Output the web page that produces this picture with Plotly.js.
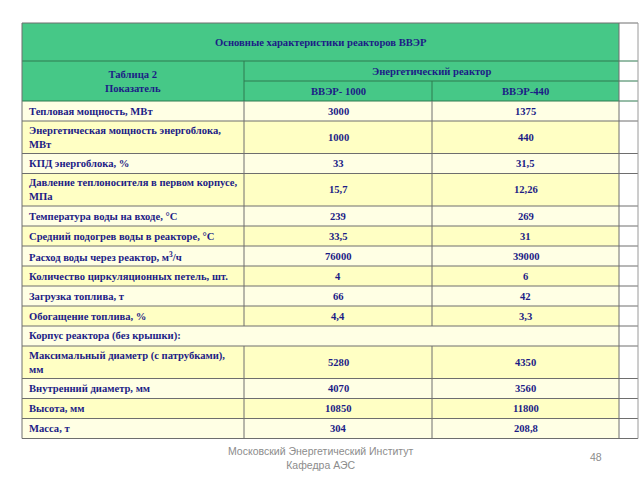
<!DOCTYPE html>
<html>
<head>
<meta charset="utf-8">
<script src="https://cdn.plot.ly/plotly-3.0.1.min.js"></script>
<style>html,body{margin:0;padding:0;background:#fff;}#chart{width:640px;height:480px;}</style>
</head>
<body>
<div id="chart"></div>
<script>
// ---- data ----
const tableTitle = "Основные характеристики реакторов ВВЭР";
const indicatorHeader = "Таблица 2<br>Показатель";
const groupHeader = "Энергетический реактор";
const reactorNames = ["ВВЭР- 1000", "ВВЭР-440"];
const rowLabels = [
  "Тепловая мощность, МВт",
  "Энергетическая мощность энергоблока,<br>МВт",
  "КПД энергоблока, %",
  "Давление теплоносителя в первом корпусе,<br>МПа",
  "Температура воды на входе, °С",
  "Средний подогрев воды в реакторе, °С",
  "Расход воды через реактор, м<sup>3</sup>/ч",
  "Количество циркуляционных петель, шт.",
  "Загрузка топлива, т",
  "Обогащение топлива, %",
  "Корпус реактора (без крышки):",
  "Максимальный диаметр (с патрубками),<br>мм",
  "Внутренний диаметр, мм",
  "Высота, мм",
  "Масса, т"
];
const vver1000 = [3000, 1000, 33, 15.7, 239, 33.5, 76000, 4, 66, 4.4, null, 5280, 4070, 10850, 304];
const vver440 = [1375, 440, 31.5, 12.26, 269, 31, 39000, 6, 42, 3.3, null, 4350, 3560, 11800, 208.8];
const footerLines = ["Московский Энергетический Институт", "Кафедра АЭС"];
const pageNumber = "48";

// ---- layout geometry ----
const colX = [22, 244, 432, 619, 638];
const headerTop = 23, titleH = 38, subH = 20;
const singleH = 20, doubleH = 32.5;
const green = "#46C887", greenLine = "#2F7A50", bodyLine = "#6E6E6E";
const fillA = "#FFFFE4", fillB = "#FFFFC4";
const textColor = "#1C1C86";
const font = {family: "Liberation Serif, Times New Roman, serif", size: 10.6, color: textColor};

const fmt = v => v === null ? "" : String(v).replace(".", ",");

const shapes = [];
const annotations = [];
const rect = (x0, y0, x1, y1, fill) => shapes.push({type: "rect", xref: "x", yref: "y", x0, y0, x1, y1, fillcolor: fill, line: {width: 0}, layer: "below"});
const line = (x0, y0, x1, y1, color) => shapes.push({type: "line", xref: "x", yref: "y", x0, y0, x1, y1, line: {color, width: 1}});
const text = (x, y, t, anchor, extra) => annotations.push(Object.assign({xref: "x", yref: "y", x, y, text: "<b>" + t + "</b>", showarrow: false, xanchor: anchor, yanchor: "middle", align: anchor === "left" ? "left" : "center", font}, extra || {}));

// header
const y1 = headerTop + titleH, y2 = y1 + subH, y3 = y2 + subH;
rect(colX[0], headerTop, colX[3], y3, green);
text((colX[0] + colX[3]) / 2, headerTop + titleH / 2, tableTitle, "center");
text((colX[0] + colX[1]) / 2, (y1 + y3) / 2, indicatorHeader, "center");
text((colX[1] + colX[3]) / 2, (y1 + y2) / 2, groupHeader, "center");
reactorNames.forEach((n, i) => text((colX[1 + i] + colX[2 + i]) / 2, (y2 + y3) / 2, n, "center"));

// body rows
let y = y3;
const rowTops = [];
const merged = [];
rowLabels.forEach((lab, i) => {
  const h = lab.includes("<br>") ? doubleH : singleH;
  rowTops.push(y);
  rect(colX[0], y, colX[3], y + h, i % 2 === 0 ? fillA : fillB);
  text(colX[0] + 5, y + h / 2, lab, "left");
  if (vver1000[i] !== null) {
    text((colX[1] + colX[2]) / 2, y + h / 2, fmt(vver1000[i]), "center");
    text((colX[2] + colX[3]) / 2, y + h / 2, fmt(vver440[i]), "center");
  } else {
    merged.push([y, y + h]);
  }
  y += h;
});
const bottom = y;

// horizontal lines
line(colX[0], headerTop, colX[4], headerTop, bodyLine);
line(colX[0], y1, colX[4], y1, greenLine);
line(colX[1], y2, colX[4], y2, greenLine);
line(colX[0], y3, colX[4], y3, greenLine);
rowTops.slice(1).forEach(t => line(colX[0], t, colX[4], t, bodyLine));
line(colX[0], bottom, colX[4], bottom, bodyLine);

// vertical lines
line(colX[0], headerTop, colX[0], bottom, bodyLine);
function vSeg(x, from, to, color) {
  let start = from;
  merged.forEach(([a, b]) => { if (a >= start && b <= to) { line(x, start, x, a, color); start = b; } });
  line(x, start, x, to, color);
}
line(colX[1], y1, colX[1], y3, greenLine);
vSeg(colX[1], y3, bottom, bodyLine);
line(colX[2], y2, colX[2], y3, greenLine);
vSeg(colX[2], y3, bottom, bodyLine);
line(colX[3], headerTop, colX[3], bottom, bodyLine);
line(colX[4], headerTop, colX[4], bottom, "#9A9A9A");

// footer
const footFont = {family: "Liberation Sans, Arial, sans-serif", size: 10.5, color: "#8C8C8C"};
annotations.push({xref: "x", yref: "y", x: 320, y: 458, text: footerLines.join("<br>"), showarrow: false, xanchor: "center", yanchor: "middle", align: "center", font: footFont});
annotations.push({xref: "x", yref: "y", x: 596, y: 457, text: pageNumber, showarrow: false, xanchor: "center", yanchor: "middle", font: footFont});

const layout = {
  width: 640, height: 480,
  margin: {l: 0, r: 0, t: 0, b: 0},
  paper_bgcolor: "#FFFFFF", plot_bgcolor: "#FFFFFF",
  xaxis: {range: [0, 640], visible: false, fixedrange: true},
  yaxis: {range: [480, 0], visible: false, fixedrange: true},
  showlegend: false,
  shapes, annotations
};
Plotly.newPlot("chart", [], layout, {displayModeBar: false, staticPlot: true});
</script>
</body>
</html>
